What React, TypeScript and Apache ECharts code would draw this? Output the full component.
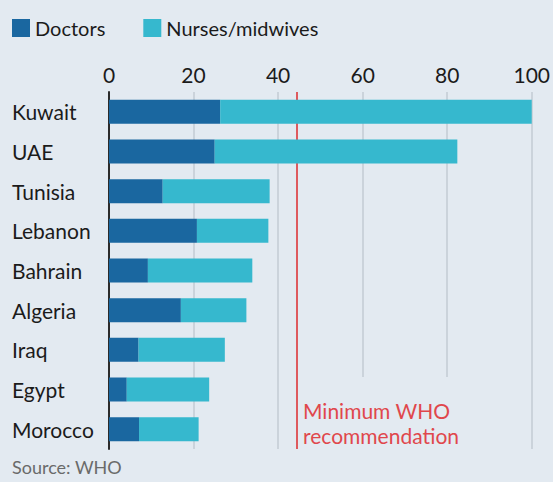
import React, { useEffect, useRef } from "react";
import * as echarts from "echarts";

const categories = ["Kuwait", "UAE", "Tunisia", "Lebanon", "Bahrain", "Algeria", "Iraq", "Egypt", "Morocco"];
const doctors = [26.3, 25.0, 12.7, 20.8, 9.2, 17.0, 7.0, 4.2, 7.1];
const nurses = [73.9, 57.4, 25.3, 16.9, 24.7, 15.5, 20.4, 19.5, 14.1];
const whoMinimum = 44.5;
const xTicks = { min: 0, max: 100, interval: 20 };

const FONT = "Lato, 'Open Sans', sans-serif";
const BG = "#e3eaf1";

export default function App() {
  const ref = useRef<HTMLDivElement>(null);
  useEffect(() => {
    if (!ref.current) return;
    const chart = echarts.init(ref.current, null, { renderer: "svg" });
    chart.setOption({
      animation: false,
      backgroundColor: BG,
      textStyle: { fontFamily: FONT },
      legend: {
        left: 7,
        top: 13,
        icon: "rect",
        itemWidth: 18,
        itemHeight: 18,
        itemGap: 38,
        textStyle: { fontSize: 20, color: "#1b1b1b", fontFamily: FONT },
        data: ["Doctors", "Nurses/midwives"],
      },
      grid: { left: 109, right: 20, top: 92, bottom: 33, containLabel: false },
      xAxis: {
        type: "value",
        position: "top",
        min: xTicks.min,
        max: xTicks.max,
        interval: xTicks.interval,
        axisLine: { show: false },
        axisTick: { show: false },
        axisLabel: { fontSize: 21, color: "#1b1b1b", margin: 7, fontFamily: FONT },
        splitLine: { show: true, lineStyle: { color: "#c3cbd3", width: 1.5 } },
      },
      yAxis: {
        type: "category",
        inverse: true,
        data: categories,
        axisLine: { show: true, lineStyle: { color: "#2b2b2b", width: 2 } },
        axisTick: { show: false },
        axisLabel: {
          fontSize: 21,
          color: "#1b1b1b",
          align: "left",
          margin: 97,
          fontFamily: FONT,
        },
      },
      series: [
        {
          name: "Doctors",
          type: "bar",
          stack: "total",
          barWidth: 24,
          data: doctors,
          itemStyle: { color: "#1a67a0" },
          z: 3,
        },
        {
          name: "Nurses/midwives",
          type: "bar",
          stack: "total",
          barWidth: 24,
          data: nurses,
          itemStyle: { color: "#36b8ce" },
          z: 3,
          markLine: {
            silent: true,
            symbol: "none",
            label: { show: false },
            lineStyle: { color: "#de5a5e", width: 2, type: "solid" },
            data: [{ xAxis: whoMinimum }],
            z: 2,
          },
        },
      ],
      graphic: [
        {
          type: "rect",
          left: 302,
          top: 377,
          z: 1,
          shape: { width: 170, height: 72 },
          style: { fill: BG },
        },
        {
          type: "text",
          left: 303,
          top: 398,
          z: 2,
          style: {
            text: "Minimum WHO",
            fontSize: 21,
            lineHeight: 24,
            fill: "#e0474c",
            fontFamily: FONT,
          },
        },
        {
          type: "text",
          left: 303,
          top: 423,
          z: 2,
          style: {
            text: "recommendation",
            fontSize: 21,
            lineHeight: 24,
            fill: "#e0474c",
            fontFamily: FONT,
          },
        },
        {
          type: "text",
          left: 12,
          top: 458,
          style: {
            text: "Source: WHO",
            fontSize: 18,
            fill: "#6a6a6a",
            fontFamily: FONT,
          },
        },
      ],
    });
    return () => chart.dispose();
  }, []);
  return <div ref={ref} style={{ width: 553, height: 482, position: "absolute", left: 0, top: 0 }} />;
}
